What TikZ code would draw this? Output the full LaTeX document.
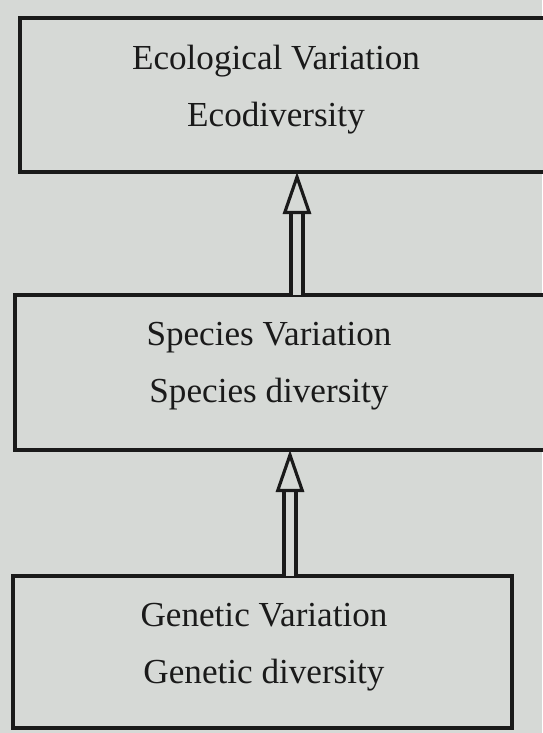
\documentclass[tikz,border=0pt]{standalone}
\usepackage{fontspec}
\setmainfont{Liberation Serif}
\usepackage{xcolor}
\usetikzlibrary{arrows.meta, positioning}
\definecolor{paper}{HTML}{D6D9D6}
\definecolor{ink}{HTML}{1A1A1A}

\begin{document}
\begin{tikzpicture}[x=0.02cm, y=-0.02cm,
      frame/.style={draw=ink, line width=2pt, fill=paper, rectangle, anchor=north west,
                    outer sep=0pt, inner sep=0pt},
      lvl/.style={font=\fontsize{20}{32.5}\selectfont, text=ink, align=center},
      uparr/.style={draw=ink, line width=1.8pt, double=paper, double distance=5pt,
                    -{Triangle[open, length=24pt, width=16pt]}}]
    \fill[paper] (0,0) rectangle (542,733);
    \useasboundingbox (0,0) rectangle (542,733);

    % the three levels, top to bottom
    \node[frame, minimum width=10.8cm, minimum height=3.08cm] (eco) at (20,18) {};
    \node[frame, minimum width=10.9cm, minimum height=3.1cm] (spec) at (15,295) {};
    \node[frame, minimum width=9.98cm, minimum height=3.04cm] (gen) at (13,576) {};

    \node[lvl] (ecotxt) at (276,90) {Ecological Variation\\Ecodiversity};
    \node[lvl] (spectxt) at (269,366) {Species Variation\\Species diversity};
    \node[lvl] (gentxt) at (264,647) {Genetic Variation\\Genetic diversity};

    \draw[uparr] (spec.north -| 297,0) -- (eco.south -| 297,0);
    \draw[uparr] (gen.north -| 290,0) -- (spec.south -| 290,0);
  \end{tikzpicture}
\end{document}
